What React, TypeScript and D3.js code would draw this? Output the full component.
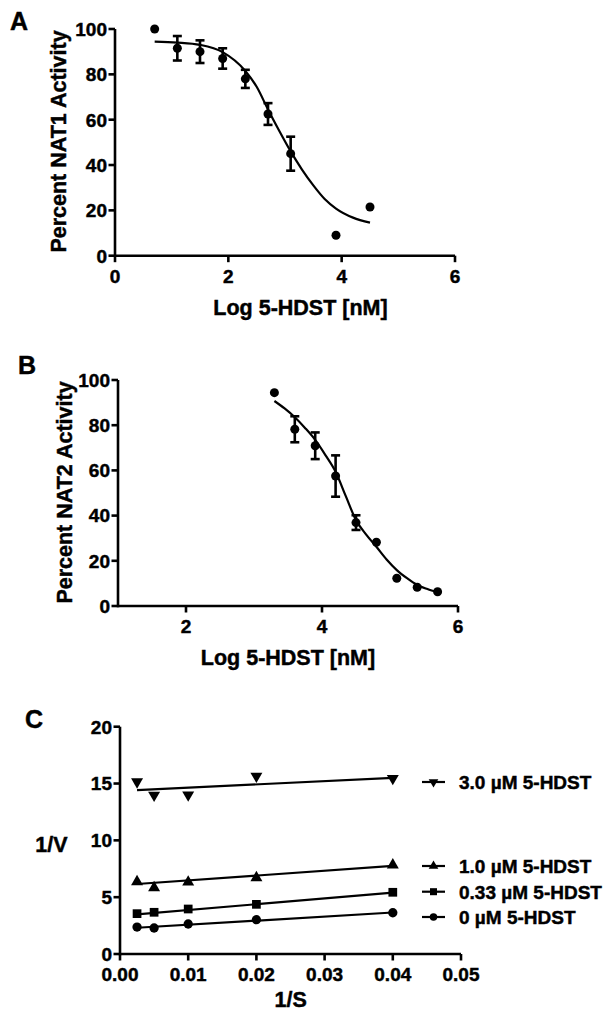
import React from "react";
import * as d3 from "d3";

// ---------- Panel A data (NAT1) ----------
const NAT1_X = [0.7, 1.1, 1.5, 1.9, 2.3, 2.7, 3.1, 3.9, 4.5];
const NAT1_Y = [100, 91.5, 90, 87, 78, 62.5, 45, 9, 21.5];
const NAT1_ERR = [0, 5.4, 5, 4.5, 4, 4.8, 7.5, 0, 0];
const NAT1_FIT_X = [0.7, 1.1, 1.5, 1.9, 2.3, 2.5, 2.7, 2.9, 3.1, 3.3, 3.5, 3.7, 3.9, 4.2, 4.5];
const NAT1_FIT_Y = [94.4, 94.0, 93.0, 89.8, 81.5, 74.5, 64.5, 55.0, 46.0, 38.0, 31.0, 25.0, 20.8, 16.8, 14.6];
const A_XTICKS = [0, 2, 4, 6];
const A_YTICKS = [0, 20, 40, 60, 80, 100];

// ---------- Panel B data (NAT2) ----------
const NAT2_X = [3.3, 3.6, 3.9, 4.2, 4.5, 4.8, 5.1, 5.4, 5.7];
const NAT2_Y = [94.4, 78.2, 70.9, 57.5, 36.9, 28.2, 12.3, 8.3, 6.3];
const NAT2_ERR = [0, 5.75, 5.9, 9.15, 3.25, 0, 0, 0, 0];
const NAT2_FIT_X = [3.3, 3.45, 3.6, 3.75, 3.9, 4.05, 4.2, 4.35, 4.5, 4.65, 4.8, 4.95, 5.1, 5.25, 5.4, 5.55, 5.7];
const NAT2_FIT_Y = [90.7, 87.4, 83.5, 78.8, 73.5, 66.8, 59.4, 48.6, 38.0, 31.6, 26.2, 20.6, 15.9, 12.3, 9.3, 7.5, 6.1];
const B_XTICKS = [2, 4, 6];
const B_YTICKS = [0, 20, 40, 60, 80, 100];

// ---------- Panel C data (Lineweaver-Burk) ----------
const INV_S = [0.0025, 0.005, 0.01, 0.02, 0.04];
const SERIES_LABELS = ["3.0 µM 5-HDST", "1.0 µM 5-HDST", "0.33 µM 5-HDST", "0 µM 5-HDST"];
const INV_V_30 = [15.15, 13.98, 14.0, 15.65, 15.45];
const INV_V_10 = [6.36, 5.83, 6.33, 6.71, 7.83];
const INV_V_033 = [3.55, 3.67, 3.96, 4.37, 5.43];
const INV_V_0 = [2.37, 2.29, 2.64, 3.02, 3.63];
const FIT_X = [0.0025, 0.04];
const FIT_30 = [14.42, 15.5];
const FIT_10 = [6.16, 7.75];
const FIT_033 = [3.49, 5.4];
const FIT_0 = [2.31, 3.65];
const C_XTICKS = [0, 0.01, 0.02, 0.03, 0.04, 0.05];
const C_YTICKS = [0, 5, 10, 15, 20];

const FONT = "'Liberation Sans', Arial, Helvetica, sans-serif";
const TICK_FS = 19;
const TITLE_FS = 21.5;
const AXIS_W = 2.6;
const TXT = { fontFamily: FONT, fontWeight: 700, stroke: "#000", strokeWidth: 0.45 } as const;

type Sc = d3.ScaleLinear<number, number>;

function Axes({ x, y, xt, yt, xfmt, yfmt }: { x: Sc; y: Sc; xt: number[]; yt: number[]; xfmt: (v: number) => string; yfmt: (v: number) => string }) {
  const [x0, x1] = x.range();
  const [y0, y1] = y.range();
  return (
    <g>
      <line x1={x0} x2={x1} y1={y0} y2={y0} stroke="#000" strokeWidth={AXIS_W} />
      <line x1={x0} x2={x0} y1={y0 + AXIS_W / 2} y2={y1} stroke="#000" strokeWidth={AXIS_W} />
      {xt.map((t) => (
        <g key={"x" + t}>
          <line x1={x(t)} x2={x(t)} y1={y0} y2={y0 + 6.5} stroke="#000" strokeWidth={AXIS_W} />
          <text x={x(t)} y={y0 + 27} textAnchor="middle" fontSize={TICK_FS} {...TXT}>
            {xfmt(t)}
          </text>
        </g>
      ))}
      {yt.map((t) => (
        <g key={"y" + t}>
          <line x1={x0 - 6.5} x2={x0} y1={y(t)} y2={y(t)} stroke="#000" strokeWidth={AXIS_W} />
          <text x={x0 - 8} y={y(t)} dy="0.36em" textAnchor="end" fontSize={TICK_FS} {...TXT}>
            {yfmt(t)}
          </text>
        </g>
      ))}
    </g>
  );
}

function DosePanel({ x, y, px, py, err, fx, fy }: { x: Sc; y: Sc; px: number[]; py: number[]; err: number[]; fx: number[]; fy: number[] }) {
  const line = d3
    .line<number>()
    .x((_, i) => x(fx[i]))
    .y((d) => y(d))
    .curve(d3.curveMonotoneX);
  return (
    <g>
      <path d={line(fy) || ""} fill="none" stroke="#000" strokeWidth={2.2} />
      {px.map((v, i) =>
        err[i] > 0 ? (
          <g key={"e" + i} stroke="#000" strokeWidth={2.6}>
            <line x1={x(v)} x2={x(v)} y1={y(py[i] + err[i])} y2={y(py[i] - err[i])} />
            <line x1={x(v) - 4.5} x2={x(v) + 4.5} y1={y(py[i] + err[i])} y2={y(py[i] + err[i])} />
            <line x1={x(v) - 4.5} x2={x(v) + 4.5} y1={y(py[i] - err[i])} y2={y(py[i] - err[i])} />
          </g>
        ) : null
      )}
      {px.map((v, i) => (
        <circle key={"p" + i} cx={x(v)} cy={y(py[i])} r={4.5} fill="#000" />
      ))}
    </g>
  );
}

const SYMS = [
  { type: d3.symbolTriangle, rot: 180, size: 62 },
  { type: d3.symbolTriangle, rot: 0, size: 62 },
  { type: d3.symbolSquare, rot: 0, size: 76 },
  { type: d3.symbolCircle, rot: 0, size: 68 },
];

export default function App() {
  // Panel A
  const ax = d3.scaleLinear().domain([0, 6]).range([115, 455]);
  const ay = d3.scaleLinear().domain([0, 100]).range([255.7, 29]);
  // Panel B
  const bx = d3.scaleLinear().domain([1, 6]).range([118, 458]);
  const by = d3.scaleLinear().domain([0, 100]).range([606, 380]);
  // Panel C
  const cx = d3.scaleLinear().domain([0, 0.05]).range([120, 461]);
  const cy = d3.scaleLinear().domain([0, 20]).range([954, 726.7]);

  const cData = [INV_V_30, INV_V_10, INV_V_033, INV_V_0];
  const cFits = [FIT_30, FIT_10, FIT_033, FIT_0];
  const legendY = [782, 866, 891.7, 917];

  const sym = (i: number, size?: number) =>
    d3.symbol().type(SYMS[i].type).size(size ?? SYMS[i].size)() || "";

  return (
    <svg width={610} height={1017} style={{ position: "absolute", left: 0, top: 0, background: "#fff" }}>
      <rect width={610} height={1017} fill="#fff" />
      {/* Panel A */}
      <text x={10} y={30} fontSize={25} {...TXT}>A</text>
      <Axes x={ax} y={ay} xt={A_XTICKS} yt={A_YTICKS} xfmt={(v) => String(v)} yfmt={(v) => String(v)} />
      <DosePanel x={ax} y={ay} px={NAT1_X} py={NAT1_Y} err={NAT1_ERR} fx={NAT1_FIT_X} fy={NAT1_FIT_Y} />
      <text transform="translate(66,141.5) rotate(-90)" textAnchor="middle" fontSize={TITLE_FS} {...TXT}>
        Percent NAT1 Activity
      </text>
      <text x={300.5} y={315} textAnchor="middle" fontSize={TITLE_FS} {...TXT}>
        Log 5-HDST [nM]
      </text>

      {/* Panel B */}
      <text x={18} y={374} fontSize={25} {...TXT}>B</text>
      <Axes x={bx} y={by} xt={B_XTICKS} yt={B_YTICKS} xfmt={(v) => String(v)} yfmt={(v) => String(v)} />
      <DosePanel x={bx} y={by} px={NAT2_X} py={NAT2_Y} err={NAT2_ERR} fx={NAT2_FIT_X} fy={NAT2_FIT_Y} />
      <text transform="translate(72,492.5) rotate(-90)" textAnchor="middle" fontSize={TITLE_FS} {...TXT}>
        Percent NAT2 Activity
      </text>
      <text x={288} y={665} textAnchor="middle" fontSize={TITLE_FS} {...TXT}>
        Log 5-HDST [nM]
      </text>

      {/* Panel C */}
      <text x={25} y={728} fontSize={25} {...TXT}>C</text>
      <Axes x={cx} y={cy} xt={C_XTICKS} yt={C_YTICKS} xfmt={(v) => d3.format(".2f")(v)} yfmt={(v) => String(v)} />
      {cFits.map((f, s) => (
        <line key={"f" + s} x1={cx(FIT_X[0])} x2={cx(FIT_X[1])} y1={cy(f[0])} y2={cy(f[1])} stroke="#000" strokeWidth={2.2} />
      ))}
      {cData.map((vals, s) =>
        vals.map((v, i) => (
          <path key={"m" + s + "-" + i} d={sym(s)} transform={`translate(${cx(INV_S[i])},${cy(v)}) rotate(${SYMS[s].rot})`} fill="#000" />
        ))
      )}
      {SERIES_LABELS.map((lab, s) => (
        <g key={"l" + s}>
          <line x1={422} x2={445} y1={legendY[s]} y2={legendY[s]} stroke="#000" strokeWidth={2.2} />
          <path d={sym(s, SYMS[s].size * 0.65)} transform={`translate(433.5,${legendY[s]}) rotate(${SYMS[s].rot})`} fill="#000" />
          <text x={459} y={legendY[s]} dy="0.36em" fontSize={19} {...TXT}>
            {lab}
          </text>
        </g>
      ))}
      <text x={51.5} y={852} textAnchor="middle" fontSize={TITLE_FS} {...TXT}>
        1/V
      </text>
      <text x={290.7} y={1007} textAnchor="middle" fontSize={TITLE_FS} {...TXT}>
        1/S
      </text>
    </svg>
  );
}
